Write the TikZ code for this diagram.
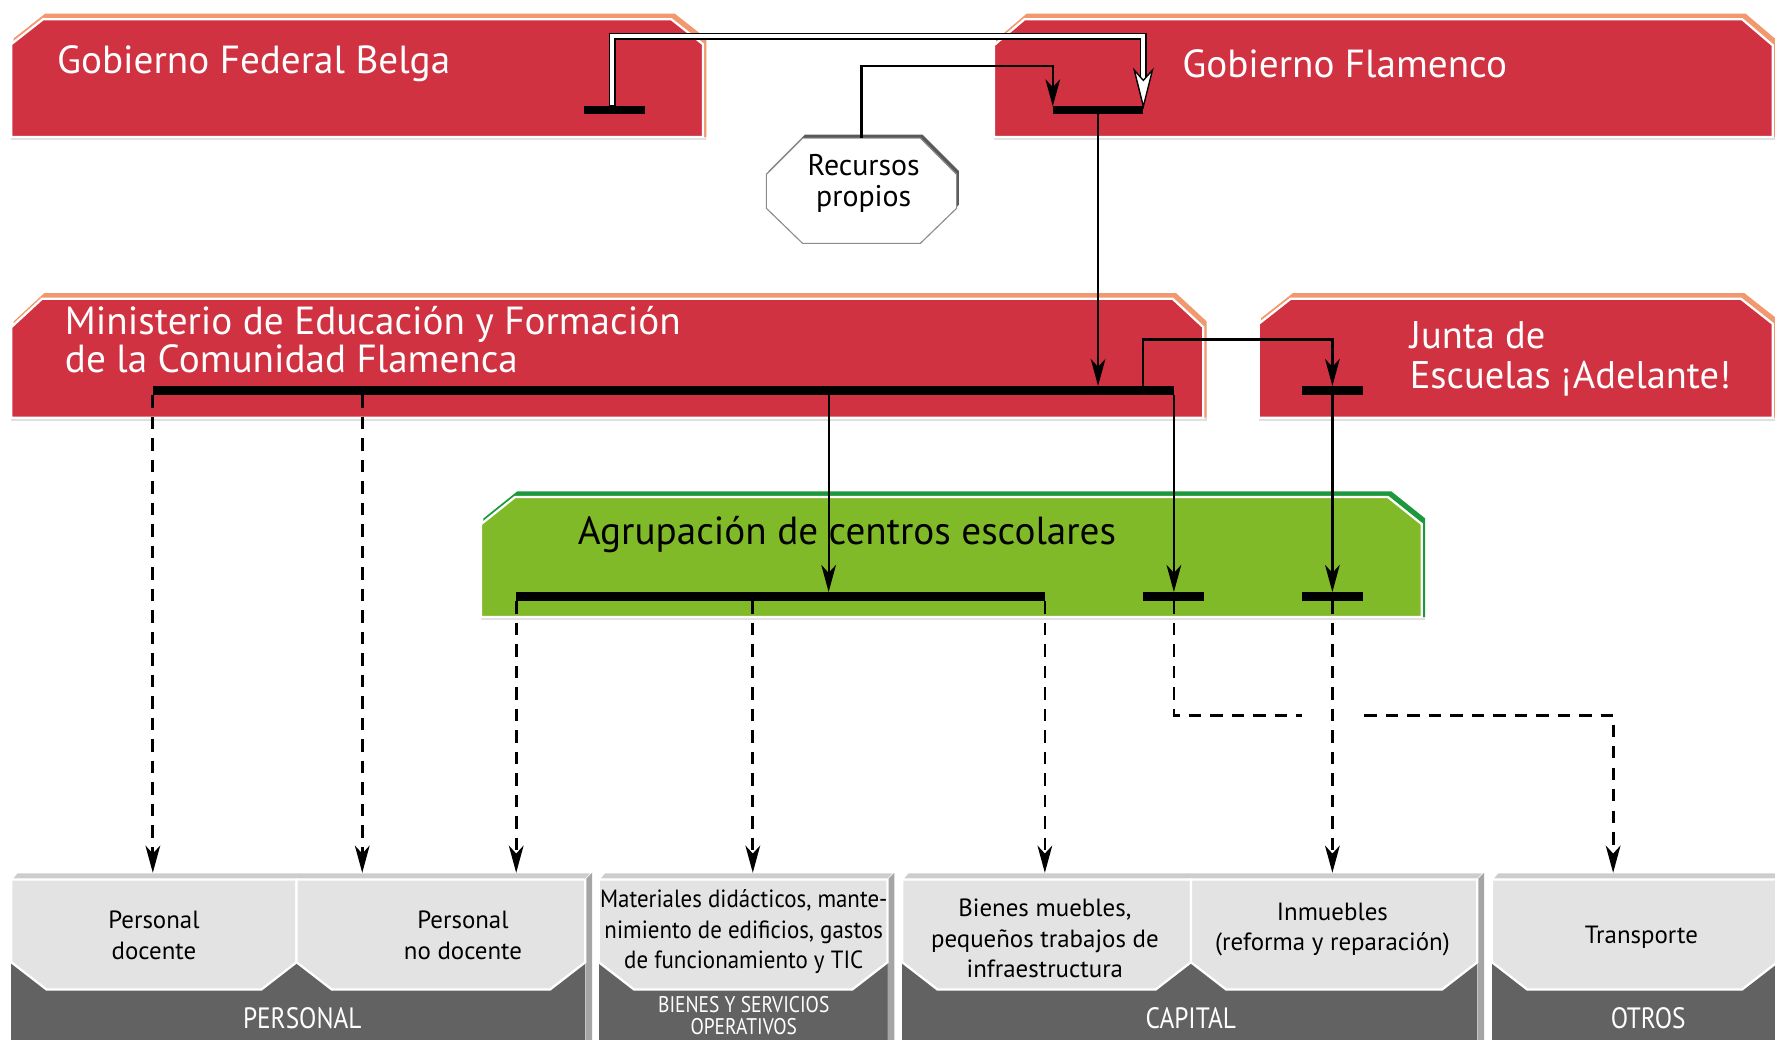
\documentclass[tikz,border=0pt]{standalone}
\usepackage{fontspec}
\setmainfont{PT Sans}
\newfontfamily\condfont[FakeStretch=0.86]{PT Sans}
\newfontfamily\matfont[FakeStretch=0.92]{PT Sans}
\usetikzlibrary{arrows.meta,fit}
\definecolor{redbox}{RGB}{209,50,66}
\definecolor{orangeedge}{RGB}{241,152,110}
\definecolor{greenbox}{RGB}{128,186,40}
\definecolor{greenedge}{RGB}{30,152,60}
\definecolor{lightbox}{RGB}{227,227,227}
\definecolor{darkband}{RGB}{98,98,98}
\definecolor{topface}{RGB}{205,205,205}
\definecolor{sideface}{RGB}{165,165,165}
\newcommand{\chbox}[8]{%
  \fill[#8] ({#1+2},{#2+#6-5}) -- ({#1+#5+2},{#2-5}) -- ({#3-#5+3},{#2-5}) -- ({#3+3},{#2+#6-5}) -- ({#3+3},#4) -- ({#1+2},#4) -- cycle;
  \fill[black!12] (#1,#4) rectangle ({#3+3},{#4+3});
  \filldraw[fill=#7, draw=white, line width=1pt] (#1,{#2+#6}) -- ({#1+#5},#2) -- ({#3-#5},#2) -- (#3,{#2+#6}) -- (#3,#4) -- (#1,#4) -- cycle;
}
\newcommand{\grp}[2]{%
  \fill[darkband] (#1,777) rectangle (#2,930);
  \fill[topface, draw=white, line width=0.6pt] (#1,777) -- ({#1+5},771) -- ({#2+6},771) -- (#2,777) -- cycle;
  \fill[sideface] (#2,777) -- ({#2+6},771) -- ({#2+6},930) -- (#2,930) -- cycle;
}
\newcommand{\lbox}[2]{%
  \filldraw[fill=lightbox, draw=white, line width=1pt] (#1,777) -- (#2,777) -- (#2,850) -- ({#2-31},874) -- ({#1+31},874) -- (#1,850) -- cycle;
}
\tikzset{
  bar/.style={fill=black, inner sep=0pt, outer sep=0pt, draw=none},
  area/.style={inner sep=0pt, outer sep=0pt, draw=none},
  conn/.style={line width=1pt, -{Stealth[length=12pt,width=6.5pt,inset=3.5pt]}},
  dconn/.style={conn, line width=1.2pt, dash pattern=on 5.5pt off 4pt},
  title/.style={text=white, font=\fontsize{17.3}{17}\selectfont, anchor=west, align=left, inner sep=0pt},
  btext/.style={text=black, font=\fontsize{11}{13.5}\selectfont, align=center, inner sep=0pt},
  lab/.style={text=white, font=\condfont\fontsize{13}{12}\selectfont, align=center, inner sep=0pt},
}
\begin{document}
\begin{tikzpicture}[x=0.5pt, y=-0.5pt]
\useasboundingbox (0,0) rectangle (1568,918);
\fill[white] (0,0) rectangle (1568,918);
% ---- top-level boxes
\chbox{10}{17}{621}{121}{28}{22}{redbox}{orangeedge}
\chbox{878}{17}{1566}{121}{27}{23}{redbox}{orangeedge}
\chbox{10}{264}{1063}{369}{27}{25}{redbox}{orangeedge}
\chbox{1112}{264}{1566}{369}{28}{22}{redbox}{orangeedge}
\chbox{425}{439}{1256}{545}{30}{24}{greenbox}{greenedge}
\node (tGFB) [title] at (50,56) {Gobierno Federal Belga};
\node (tGF) [title] at (1044,56) {Gobierno Flamenco};
\node (tMin) [title, font=\fontsize{17.3}{17}\selectfont] at (57,300) {Ministerio de Educación y Formación\\de la Comunidad Flamenca};
\node (tJ) [title, font=\fontsize{17}{18}\selectfont] at (1245,317) {Junta de\\Escuelas ¡Adelante!};
\node (tAgr) [title, text=black] at (510,472) {Agrupación de centros escolares};
% ---- recursos propios
\fill[black!65] (711,119) -- (815,119) -- (847,151) -- (847,181) -- (815,212) -- (711,212) -- (679,181) -- (679,151) -- cycle;
\filldraw[fill=white, draw=black!45, line width=0.5pt] (709,122) -- (813,122) -- (845,154) -- (845,184) -- (813,215) -- (709,215) -- (677,184) -- (677,154) -- cycle;
\node (rec) [area, fit={(677,122)(845,215)}] {};
\node (tRec) [btext, font=\fontsize{13.2}{14}\selectfont] at (763,162) {Recursos\\propios};
% ---- bottom groups
\grp{10}{517}
\grp{529}{784}
\grp{797}{1305}
\grp{1318}{1570}
\lbox{10}{262}
\lbox{262}{517}
\lbox{529}{784}
\lbox{797}{1052}
\lbox{1052}{1305}
\lbox{1318}{1570}
\node (pd) [area, fit={(10,771)(262,874)}] {};
\node (pnd) [area, fit={(262,771)(517,874)}] {};
\node (mat) [area, fit={(529,771)(784,874)}] {};
\node (bm) [area, fit={(797,771)(1052,874)}] {};
\node (inm) [area, fit={(1052,771)(1305,874)}] {};
\node (tr) [area, fit={(1318,771)(1568,874)}] {};
\node (tPD) [btext] at (136,826) {Personal\\docente};
\node (tPND) [btext] at (409,826) {Personal\\no docente};
\node (tMat) [btext, font=\matfont\fontsize{11}{13.5}\selectfont] at (657,823) {Materiales didácticos, mante-\\nimiento de edificios, gastos\\de funcionamiento y TIC};
\node (tBM) [btext] at (923,829) {Bienes muebles,\\pequeños trabajos de\\infraestructura};
\node (tInm) [btext] at (1177,821) {Inmuebles\\(reforma y reparación)};
\node (tTr) [btext] at (1450,828) {Transporte};
\node (lPers) [lab] at (267,899) {PERSONAL};
\node (lBien) [lab, font=\condfont\fontsize{10}{9.5}\selectfont] at (657,897) {BIENES Y SERVICIOS\\OPERATIVOS};
\node (lCap) [lab] at (1052,899) {CAPITAL};
\node (lOtr) [lab] at (1456,899) {OTROS};
% ---- bars
\node (bGFB) [bar, fit={(516,94)(570,101)}] {};
\node (bGF) [bar, fit={(930,94)(1010,101)}] {};
\node (bMin) [bar, fit={(135,341)(1037,349)}] {};
\node (bJ) [bar, fit={(1150,341)(1204,349)}] {};
\node (bAgr) [bar, fit={(456,523)(923,531)}] {};
\node (bA2) [bar, fit={(1010,523)(1064,531)}] {};
\node (bA3) [bar, fit={(1150,523)(1204,531)}] {};
% ---- coordinates
\coordinate (c1a) at (541,32);
\coordinate (c1b) at (1010,32);
\coordinate (c1e) at (1010,70);
\coordinate (c2) at (850,58);
\coordinate (c3) at (1100,300);
\coordinate (m1010) at (1010,341);
\coordinate (m732) at (732,349);
\coordinate (m320) at (320,349);
\coordinate (a665) at (665,531);
\coordinate (gapL) at (1150,632);
\coordinate (gapR) at (1205,632);
\coordinate (c1425) at (1425,632);
% ---- white double connector
\draw[line width=3.2pt, black] (bGFB.north -| c1a) -- (c1a) -- (c1b) -- (c1e);
\draw[line width=1.8pt, white] (bGFB.north -| c1a) ++(0,-1) -- (c1a) -- (c1b) -- (c1e);
\filldraw[fill=white, draw=black, line width=0.6pt] (bGF.north east) -- ++(-8,-32) -- ++(8,9) -- ++(8,-9) -- cycle;
% ---- solid connectors
\draw[conn] (rec.north) |- (c2) -| (bGF.north west);
\draw[conn] (bGF.south) -- (bGF.south |- bMin.north);
\draw[conn] (m1010) |- (c3) -| (bJ.north);
\draw[conn] (bJ.south) -- (bA3.north);
\draw[conn] (bMin.south east) -- (bA2.north);
\draw[conn] (m732) -- (m732 |- bAgr.north);
% ---- dashed connectors
\draw[dconn] (bMin.south west) -- (bMin.south west |- pd.north);
\draw[dconn] (m320) -- (m320 |- pnd.north);
\draw[dconn] (bAgr.south west) -- (bAgr.south west |- pnd.north);
\draw[dconn] (a665) -- (a665 |- mat.north);
\draw[dconn] (bAgr.south east) -- (bAgr.south east |- bm.north);
\draw[dconn, -] (bA2.south) |- (gapL);
\draw[dconn] (gapR) -- (c1425) -- (c1425 |- tr.north);
\draw[dconn] (bA3.south) -- (bA3.south |- inm.north);
\end{tikzpicture}
\end{document}
